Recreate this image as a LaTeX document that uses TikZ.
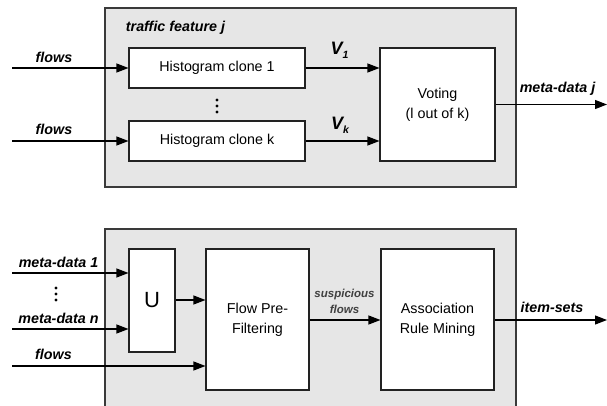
\documentclass[tikz,border=0pt]{standalone}
\usepackage{fontspec}
\setmainfont{Liberation Sans}
\usetikzlibrary{arrows.meta}
\definecolor{panelfill}{HTML}{E6E6E6}
\definecolor{panelline}{HTML}{3A3A3A}
\definecolor{boxline}{HTML}{222222}
\tikzset{
  panel/.style={draw=panelline, line width=1.1pt, fill=panelfill},
  blk/.style={draw=boxline, line width=1.1pt, fill=white, inner sep=0pt,
    align=center, font=\fontsize{14.3}{20}\selectfont},
  lbl/.style={inner sep=0pt, font=\fontsize{14.3}{16}\selectfont\bfseries\itshape},
  vlbl/.style={inner sep=0pt, font=\fontsize{18}{18}\selectfont\bfseries\itshape},
  slbl/.style={inner sep=0pt, align=center, font=\fontsize{11.5}{16}\selectfont\bfseries\itshape, text=black!75},
  flow/.style={line width=1.1pt, -{Triangle[length=12pt,width=9pt]}},
  dotmark/.style={fill=black, circle, inner sep=0pt, minimum size=3.2pt}
}
\begin{document}
\begin{tikzpicture}[x=1pt, y=-1pt]
\useasboundingbox (0,0) rectangle (607,406);

% ---- upper panel: one traffic feature ----
\path[panel] (105,8) rectangle (516,187);
\node[lbl, anchor=center] (tf) at (175.5,28) {traffic feature j};

\node[blk, minimum width=176pt, minimum height=40pt] (h1) at (217,68) {Histogram clone 1};
\node[blk, minimum width=176pt, minimum height=40pt] (hk) at (217,141) {Histogram clone k};
\node[blk, minimum width=115pt, minimum height=113pt] (vote) at (437.5,104.5) {Voting\\(l out of k)};

% vertical ellipsis between the clones
\node[dotmark] (hd1) at (217,100) {};
\node[dotmark] (hd2) at (217,106) {};
\node[dotmark] (hd3) at (217,112) {};

\coordinate (in1) at (12,68);
\coordinate (ink) at (12,141);
\coordinate (outj) at (607,104.5);

\draw[flow] (in1) -- (h1.west);
\draw[flow] (ink) -- (hk.west);
\draw[flow] (h1.east) -- (h1.east -| vote.west);
\draw[flow] (hk.east) -- (hk.east -| vote.west);
\draw[flow] (vote.east) -- (outj);

\node[lbl] (fl1) at (54,57) {flows};
\node[lbl] (flk) at (54,129) {flows};
\node[vlbl] (v1) at (339.5,50) {V\raisebox{-0.4ex}{\fontsize{10.5}{10.5}\selectfont 1}};
\node[vlbl] (vk) at (340,125) {V\raisebox{-0.4ex}{\fontsize{10.5}{10.5}\selectfont k}};
\node[lbl] (mdj) at (557.5,89) {meta-data j};

% ---- lower panel: rule mining ----
\path[panel] (105,229) rectangle (516,420);

\node[blk, minimum width=46pt, minimum height=103pt, font=\fontsize{22}{24}\selectfont] (un) at (152,300.5) {U};
\node[blk, minimum width=103pt, minimum height=141pt] (fpf) at (257.5,319.5) {Flow Pre-\\Filtering};
\node[blk, minimum width=113pt, minimum height=141pt] (arm) at (437.5,319.5) {Association\\Rule Mining};

% vertical ellipsis between the meta-data inputs
\node[dotmark] (md1d) at (56,288) {};
\node[dotmark] (md2d) at (56,294) {};
\node[dotmark] (md3d) at (56,300) {};

\coordinate (m1) at (12,273);
\coordinate (mn) at (12,329);
\coordinate (fin) at (12,366);
\coordinate (outi) at (607,320);

\draw[flow] (m1) -- (m1 -| un.west);
\draw[flow] (mn) -- (mn -| un.west);
\draw[flow] (un.east |- 0,300) -- (fpf.west |- 0,300);
\draw[flow] (fin) -- (fin -| fpf.west);
\draw[flow] (fpf.east |- 0,320) -- (arm.west |- 0,320);
\draw[flow] (arm.east |- outi) -- (outi);

\node[lbl] (md1) at (58.5,262) {meta-data 1};
\node[lbl] (mdn) at (58.5,318) {meta-data n};
\node[lbl] (fl2) at (53.5,354) {flows};
\node[slbl] (susp) at (344.5,301) {suspicious\\flows};
\node[lbl] (items) at (552,307) {item-sets};
\end{tikzpicture}
\end{document}
